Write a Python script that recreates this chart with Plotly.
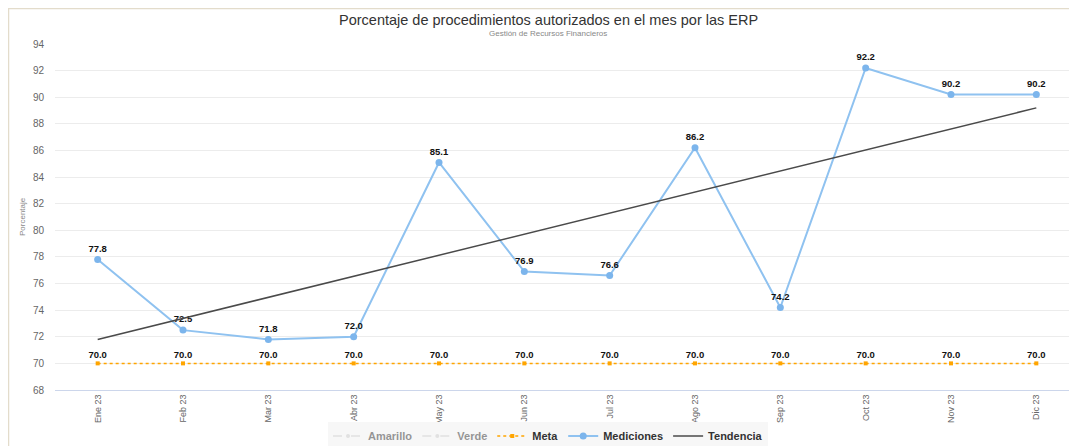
import plotly.graph_objects as go

months = ["Ene 23", "Feb 23", "Mar 23", "Abr 23", "May 23", "Jun 23",
          "Jul 23", "Ago 23", "Sep 23", "Oct 23", "Nov 23", "Dic 23"]
mediciones = [77.8, 72.5, 71.8, 72.0, 85.1, 76.9, 76.6, 86.2, 74.2, 92.2, 90.2, 90.2]
meta = [70.0] * 12
trend_x = ["Ene 23", "Dic 23"]
trend_y = [71.8, 89.2]
y_ticks = [68, 70, 72, 74, 76, 78, 80, 82, 84, 86, 88, 90, 92, 94]

FONT = "Liberation Sans, Arial, Helvetica, sans-serif"

fig = go.Figure()

fig.add_trace(go.Scatter(x=months, y=[None] * 12, name="Amarillo", mode="lines+markers",
                         line=dict(color="#cccccc", dash="dash", width=1.5),
                         marker=dict(size=4), visible="legendonly"))
fig.add_trace(go.Scatter(x=months, y=[None] * 12, name="Verde", mode="lines+markers",
                         line=dict(color="#cccccc", dash="dash", width=1.5),
                         marker=dict(size=4), visible="legendonly"))
fig.add_trace(go.Scatter(x=months, y=meta, name="Meta", mode="lines+markers+text",
                         line=dict(color="#FFA500", dash="dot", width=1.5),
                         marker=dict(size=4, symbol="square", color="#FFA500"),
                         text=[f"{v:.1f}" for v in meta], textposition="top center",
                         textfont=dict(family=FONT, size=9.5, color="#111", weight="bold")))
fig.add_trace(go.Scatter(x=months, y=mediciones, name="Mediciones", mode="lines+markers+text",
                         line=dict(color="#8fc2f0", width=2),
                         marker=dict(size=7, color="#7cb5ec"),
                         text=[f"{v:.1f}" for v in mediciones], textposition="top center",
                         textfont=dict(family=FONT, size=9.5, color="#111", weight="bold")))
fig.add_trace(go.Scatter(x=trend_x, y=trend_y, name="Tendencia", mode="lines",
                         line=dict(color="#4a4a4a", width=1.5)))

# page is offset by 8px body margin; work in page pixels
OFF = 8
L, T, B, R = 55, 44, 390, 1079
FW, FH = R - OFF, 446 - OFF
W, H = R - L, B - T
def px_x(p): return (p - L) / W
def px_y(p): return (B - p) / H

fig.add_shape(type="line", xref="paper", yref="paper", x0=px_x(8), x1=px_x(1077),
              y0=px_y(8.5), y1=px_y(8.5), line=dict(color="#e3dccb", width=1.5))
fig.add_shape(type="line", xref="paper", yref="paper", x0=px_x(8.5), x1=px_x(8.5),
              y0=px_y(8), y1=px_y(446), line=dict(color="#e3dccb", width=1.5))

fig.add_annotation(text="Porcentaje de procedimientos autorizados en el mes por las ERP",
                   xref="paper", yref="paper", x=px_x(548), y=px_y(20),
                   xanchor="center", yanchor="middle", showarrow=False,
                   font=dict(family=FONT, size=14.5, color="#333"))
fig.add_annotation(text="Gestión de Recursos Financieros", xref="paper", yref="paper",
                   x=px_x(548), y=px_y(33), xanchor="center", yanchor="middle",
                   showarrow=False, font=dict(family=FONT, size=8, color="#888"))
fig.add_annotation(text="Porcentaje", xref="paper", yref="paper",
                   x=px_x(22), y=px_y(217), xanchor="center", yanchor="middle", textangle=-90,
                   showarrow=False, font=dict(family=FONT, size=8, color="#888"))

fig.update_layout(
    width=FW, height=FH,
    margin=dict(l=L - OFF, r=0, t=T - OFF, b=FH - (B - OFF), autoexpand=False),
    paper_bgcolor="white", plot_bgcolor="white",
    font=dict(family=FONT, color="#666"),
    showlegend=True,
    legend=dict(orientation="h", x=px_x(548), xanchor="center", y=px_y(436), yanchor="middle",
                bgcolor="#f7f7f7", font=dict(family=FONT, size=11, color="#333", weight="bold"),
                itemwidth=30, traceorder="normal", tracegroupgap=0),
    xaxis=dict(type="category", categoryorder="array", categoryarray=months,
               range=[-0.5, len(months) - 0.5],
               tickangle=-90, tickfont=dict(size=9, color="#666"), automargin=False,
               showgrid=False, showline=True, linecolor="#ccd6eb", linewidth=1,
               ticks="", zeroline=False),
    yaxis=dict(range=[68, 94], tickvals=y_ticks, tickfont=dict(size=10, color="#666"),
               showgrid=True, gridcolor="#ececec", gridwidth=1, zeroline=False,
               automargin=False, ticklabelstandoff=10, ticks=""),
)

fig.write_html("out.html")
